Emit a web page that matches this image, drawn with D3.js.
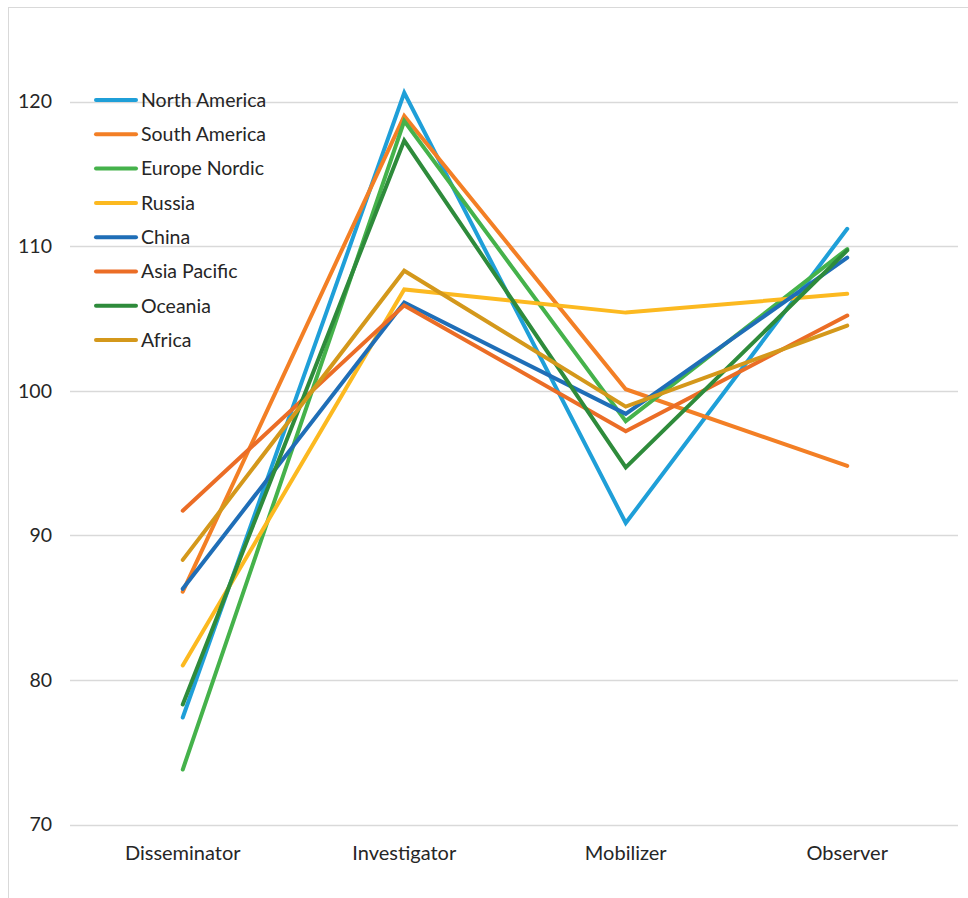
<!DOCTYPE html>
<html>
<head>
<meta charset="utf-8">
<script src="https://cdn.jsdelivr.net/npm/d3@7"></script>
<style>
  html, body { margin: 0; padding: 0; background: #fff; }
  svg { display: block; }
  text { font-family: Lato, "Open Sans", sans-serif; fill: #262626; }
</style>
</head>
<body>
<script>
// Role categories along the x axis
const categories = ["Disseminator", "Investigator", "Mobilizer", "Observer"];

// Region names, in legend order
const regions = ["North America", "South America", "Europe Nordic", "Russia",
                 "China", "Asia Pacific", "Oceania", "Africa"];

// Index values per region, one per role
const northAmerica = [77.4, 120.6, 90.85, 111.2];
const southAmerica = [86.1, 119.0, 100.1, 94.8];
const europeNordic = [73.8, 118.65, 97.9, 109.8];
const russia       = [81.0, 107.0, 105.4, 106.7];
const china        = [86.3, 106.1, 98.4, 109.2];
const asiaPacific  = [91.7, 105.9, 97.2, 105.2];
const oceania      = [78.3, 117.3, 94.7, 109.7];
const africa       = [88.3, 108.3, 98.9, 104.5];

const seriesValues = [northAmerica, southAmerica, europeNordic, russia,
                      china, asiaPacific, oceania, africa];

const colors = ["#1f9fd8", "#f37f25", "#45b24b", "#fcb920",
                "#1f6eb7", "#eb6d26", "#2e8b3b", "#d4981b"];

const yTicks = [70, 80, 90, 100, 110, 120];

const W = 968, H = 898;
const svg = d3.select("body").append("svg").attr("width", W).attr("height", H);

// Chart frame
svg.append("rect")
  .attr("x", 8.5).attr("y", 7.5)
  .attr("width", W + 10).attr("height", H + 10)
  .attr("fill", "none").attr("stroke", "#d9d9d9").attr("stroke-width", 1);

const x = d3.scaleBand().domain(categories).range([72, 958]);
const y = d3.scaleLinear().domain([70, 120]).range([824.5, 101.5]);

// Horizontal gridlines
svg.append("g").selectAll("line").data(yTicks).join("line")
  .attr("x1", 70).attr("x2", 958)
  .attr("y1", d => Math.round(y(d)) + 0.5).attr("y2", d => Math.round(y(d)) + 0.5)
  .attr("stroke", "#d9d9d9").attr("stroke-width", 1.3);

// Y axis labels
svg.append("g").selectAll("text").data(yTicks).join("text")
  .attr("x", 52).attr("y", d => y(d))
  .attr("dy", "0.35em").attr("text-anchor", "end")
  .attr("font-size", 19.5)
  .text(d => d);

// X axis labels
svg.append("g").selectAll("text").data(categories).join("text")
  .attr("x", d => x(d) + x.bandwidth() / 2).attr("y", 853)
  .attr("dy", "0.35em").attr("text-anchor", "middle")
  .attr("font-size", 20)
  .text(d => d);

// Series lines
const line = d3.line()
  .x((d, i) => x(categories[i]) + x.bandwidth() / 2)
  .y(d => y(d));

svg.append("g").selectAll("path").data(seriesValues).join("path")
  .attr("d", line)
  .attr("fill", "none")
  .attr("stroke", (d, i) => colors[i])
  .attr("stroke-width", 4)
  .attr("stroke-linecap", "round")
  .attr("stroke-linejoin", "miter");

// Legend
const legend = svg.append("g").selectAll("g").data(regions).join("g")
  .attr("transform", (d, i) => `translate(94, ${100 + i * 34.3})`);
legend.append("line")
  .attr("x1", 2).attr("x2", 42).attr("y1", 0).attr("y2", 0)
  .attr("stroke", (d, i) => colors[i])
  .attr("stroke-width", 4).attr("stroke-linecap", "round");
legend.append("text")
  .attr("x", 47).attr("y", 0).attr("dy", "0.35em")
  .attr("font-size", 19.5)
  .text(d => d);
</script>
</body>
</html>
